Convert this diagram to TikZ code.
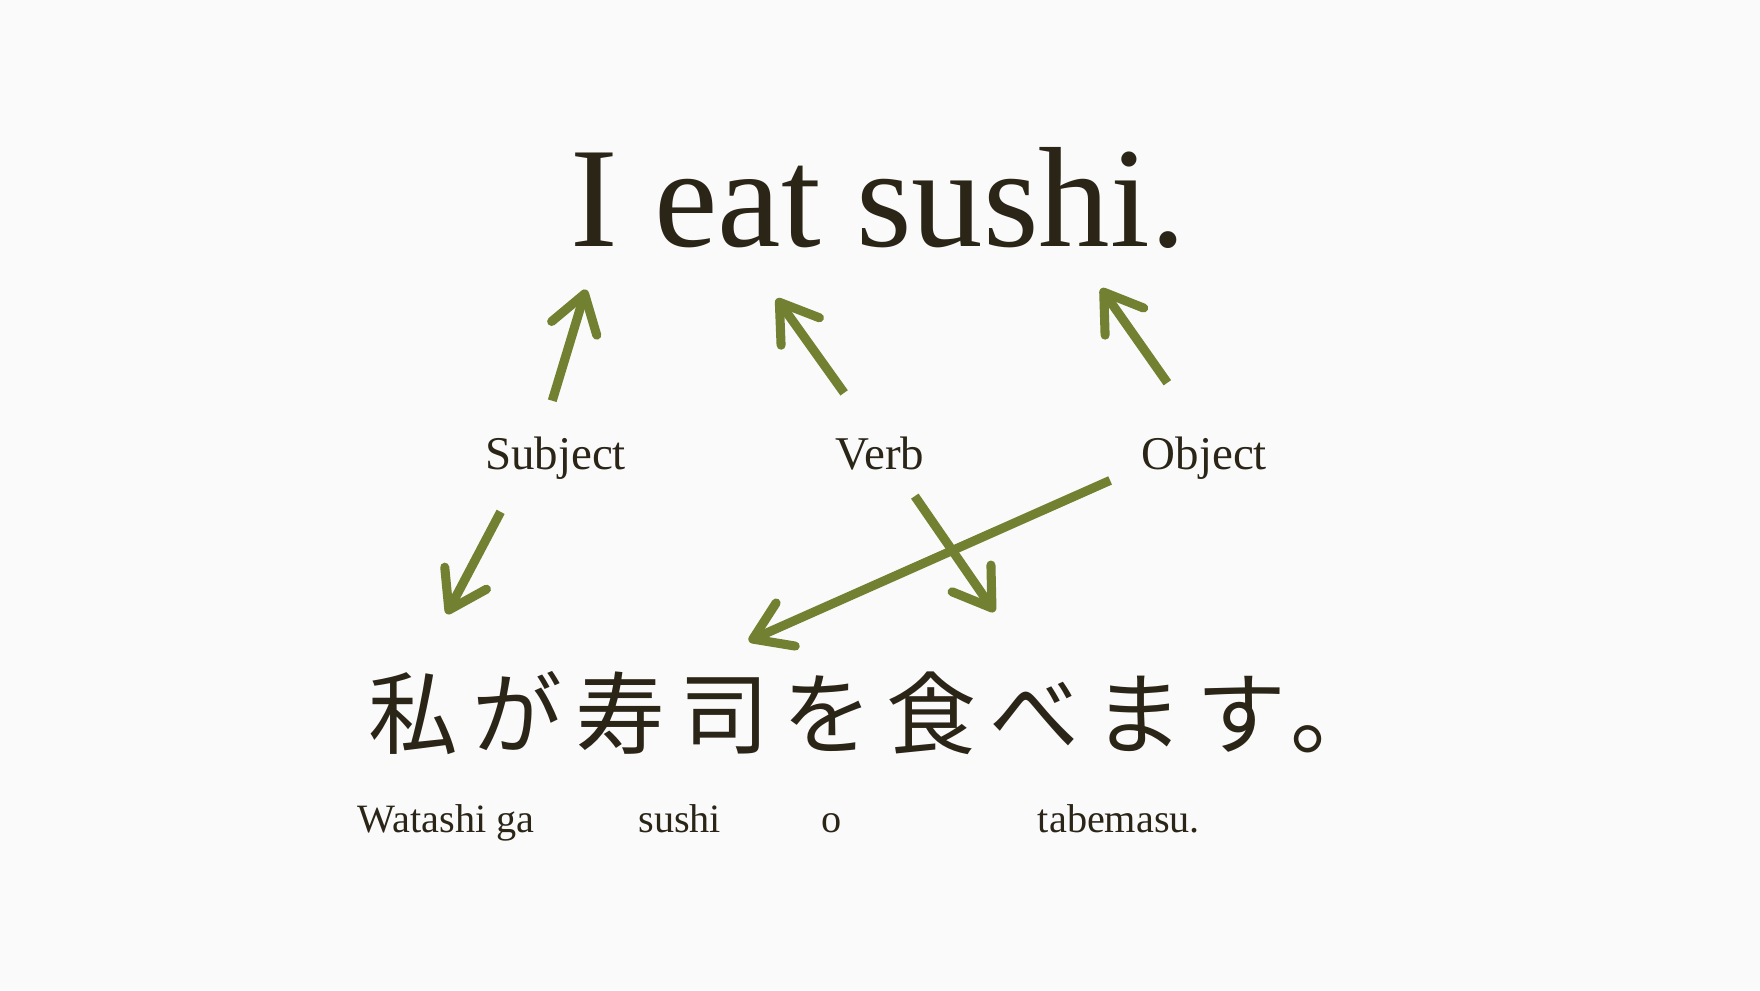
\documentclass[tikz,border=0pt]{standalone}
\usepackage{fontspec}
\setmainfont{Liberation Serif}
\newfontfamily\jpfont[LetterSpace=15]{Noto Sans CJK JP}
\usepackage{tikz}
\usetikzlibrary{arrows.meta,positioning,calc}
\usepackage{xcolor}
\definecolor{bgwhite}{RGB}{250,250,250}
\definecolor{inkbrown}{RGB}{43,37,24}
\definecolor{arrowolive}{RGB}{114,128,50}

\begin{document}
\begin{tikzpicture}[
    every node/.style={inner sep=0pt, text=inkbrown},
    sentence/.style={font=\fontsize{36.2}{40}\selectfont},
    role/.style={font=\fontsize{11.9}{14}\selectfont},
    jpline/.style={font=\jpfont\fontsize{22.8}{26}\selectfont},
    romaji/.style={font=\fontsize{10.2}{12}\selectfont},
    arrow/.style={draw=arrowolive, line width=2.3pt, -{Straight Barb[length=0.32cm, width=0.42cm, round]}}
]

% Background and page size
\fill[bgwhite] (0,0) rectangle (15.68,8.82);

% Define nodes for the English sentence
\node[sentence, anchor=base] (english) at (7.825,6.62) {I eat sushi.};

% Define nodes for the roles
\node[role, anchor=base] (subject) at (4.95,4.64) {Subject};
\node[role, anchor=base] (verb) at (7.84,4.64) {Verb};
\node[role, anchor=base] (object) at (10.73,4.64) {Object};

% Define nodes for the Japanese sentence
\node[jpline, anchor=base west] (japanese) at (3.28,2.16) {私が寿司を食べます。};
\node[romaji, anchor=base west] (watashi) at (3.18,1.40) {Watashi ga};
\node[romaji, anchor=base west] (sushi) at (5.68,1.40) {sushi};
\node[romaji, anchor=base west] (particle) at (7.31,1.40) {o};
\node[romaji, anchor=base west] (tabemasu) at (9.24,1.40) {tabemasu.};

% Connect roles to the English sentence
\draw[arrow] ($(subject.base)+(-0.03,0.61)$) -- ($(english.base)+(-2.605,-0.38)$);
\draw[arrow] ($(verb.base)+(-0.32,0.68)$) -- ($(english.base)+(-0.905,-0.46)$);
\draw[arrow] ($(object.base)+(-0.33,0.77)$) -- ($(english.base)+(1.985,-0.37)$);

% Connect roles to the Japanese sentence
\draw[arrow] ($(subject.base)+(-0.49,-0.38)$) -- ($(japanese.base west)+(0.70,1.19)$);
\draw[arrow] ($(verb.base)+(0.31,-0.24)$) -- ($(japanese.base west)+(5.58,1.21)$);
\draw[arrow] ($(object.base)+(-0.84,-0.10)$) -- ($(japanese.base west)+(3.39,0.95)$);

\end{tikzpicture}
\end{document}
